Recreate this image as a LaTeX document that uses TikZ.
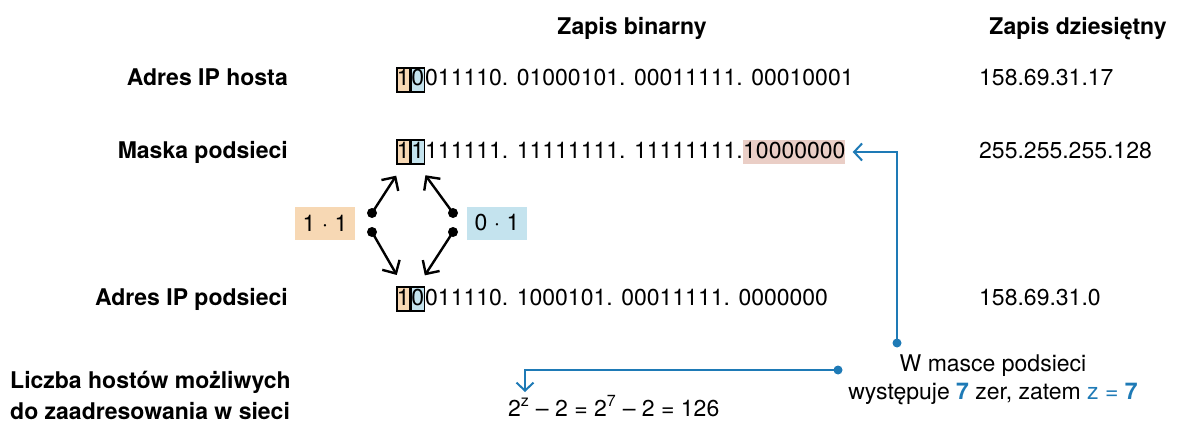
\documentclass[tikz,border=0pt]{standalone}
\usepackage{fontspec}
\setmainfont{TeX Gyre Heros}
\usetikzlibrary{arrows.meta,positioning}
\definecolor{maskblue}{RGB}{30,122,182}
\definecolor{bitorange}{RGB}{247,216,180}
\definecolor{bitblue}{RGB}{196,227,238}
\definecolor{zeropink}{RGB}{234,206,198}
\begin{document}
\begin{tikzpicture}[x=1pt,y=1pt,every node/.style={font=\fontsize{23}{28}\selectfont,inner sep=1pt},
  lbl/.style={font=\fontsize{23}{31}\selectfont\bfseries,inner sep=0pt},
  bits/.style={inner sep=0pt,anchor=base west},
  bitbox/.style={bits,draw,line width=1.5pt,minimum width=13pt,text height=18pt,text depth=6pt},
  prod/.style={minimum width=60pt,minimum height=33pt},
  dot/.style={circle,fill,inner sep=0pt,minimum size=10pt},
  blk/.style={-{Straight Barb[length=10pt,width=20pt]},line width=2.4pt,shorten >=13pt},
  blu/.style={draw=maskblue,line width=2pt},
  bdot/.style={circle,fill=maskblue,inner sep=0pt,minimum size=9pt}]
\useasboundingbox (0,0) rectangle (1178,-433);
% headers
\node[lbl,anchor=base] (hbin) at (632,-35) {Zapis binarny};
\node[lbl,anchor=base] (hdec) at (1078,-35) {Zapis dziesiętny};
% row labels
\node[lbl,anchor=base east] (lhost) at (288,-86) {Adres IP hosta};
\node[lbl,anchor=base east] (lmask) at (288,-158) {Maska podsieci};
\node[lbl,anchor=base east] (lnet) at (288,-305) {Adres IP podsieci};
\node[lbl,anchor=north west,align=left] (lcount) at (10,-371) {Liczba hostów możliwych\\do zaadresowania w sieci};
% host address
\node[bitbox,fill=bitorange] (h1) at (396,-86) {1};
\node[bitbox,fill=bitblue] (h2) at (h1.base east) {0};
\node[bits] (h3) at (h2.base east) {011110. 01000101. 00011111. 00010001};
% subnet mask
\node[bitbox,fill=bitorange] (m1) at (396,-158) {1};
\node[bitbox,fill=bitblue] (m2) at (m1.base east) {1};
\node[bits] (m3) at (m2.base east) {111111. 11111111. 11111111.};
\node[bits,fill=zeropink,text height=18pt,text depth=6pt] (m4) at (m3.base east) {10000000};
% subnet address
\node[bitbox,fill=bitorange] (n1) at (396,-305) {1};
\node[bitbox,fill=bitblue] (n2) at (n1.base east) {0};
\node[bits] (n3) at (n2.base east) {011110. 1000101. 00011111. 0000000};
% decimal
\node[anchor=base west] (dhost) at (978,-86) {158.69.31.17};
\node[anchor=base west] (dmask) at (978,-158) {255.255.255.128};
\node[anchor=base west] (dnet) at (978,-305) {158.69.31.0};
% bitwise products
\node[prod,fill=bitorange] (p1) at (325,-223) {1 · 1};
\node[prod,fill=bitblue] (p2) at (497,-223) {0 · 1};
\node[dot] (a1) at (372,-213) {};
\node[dot] (a2) at (372,-232) {};
\node[dot] (b1) at (453,-213) {};
\node[dot] (b2) at (453,-232) {};
\draw[blk] (a1.center) -- (m1.south);
\draw[blk] (b1.center) -- (m2.south);
\draw[blk] (a2.center) -- (n1.north);
\draw[blk] (b2.center) -- (n2.north);
% number of hosts
\node[anchor=base west] (calc) at (507,-416) {2\textsuperscript{z} – 2 = 2\textsuperscript{7} – 2 = 126};
\node[align=center] (note) at (993,-380) {W masce podsieci\\występuje \textcolor{maskblue}{\bfseries 7} zer, zatem \textcolor{maskblue}{z = \bfseries 7}};
\node[bdot] (c1) at (897,-343) {};
\node[bdot] (c2) at (838,-370) {};
\coordinate (ctop) at (525,-392);
\draw[blu,-{Straight Barb[length=8pt,width=17pt]},shorten >=7pt] (c1.center) |- (m4.east);
\draw[blu,-{Straight Barb[length=8pt,width=17pt]}] (c2.center) -| (ctop);
\end{tikzpicture}
\end{document}
